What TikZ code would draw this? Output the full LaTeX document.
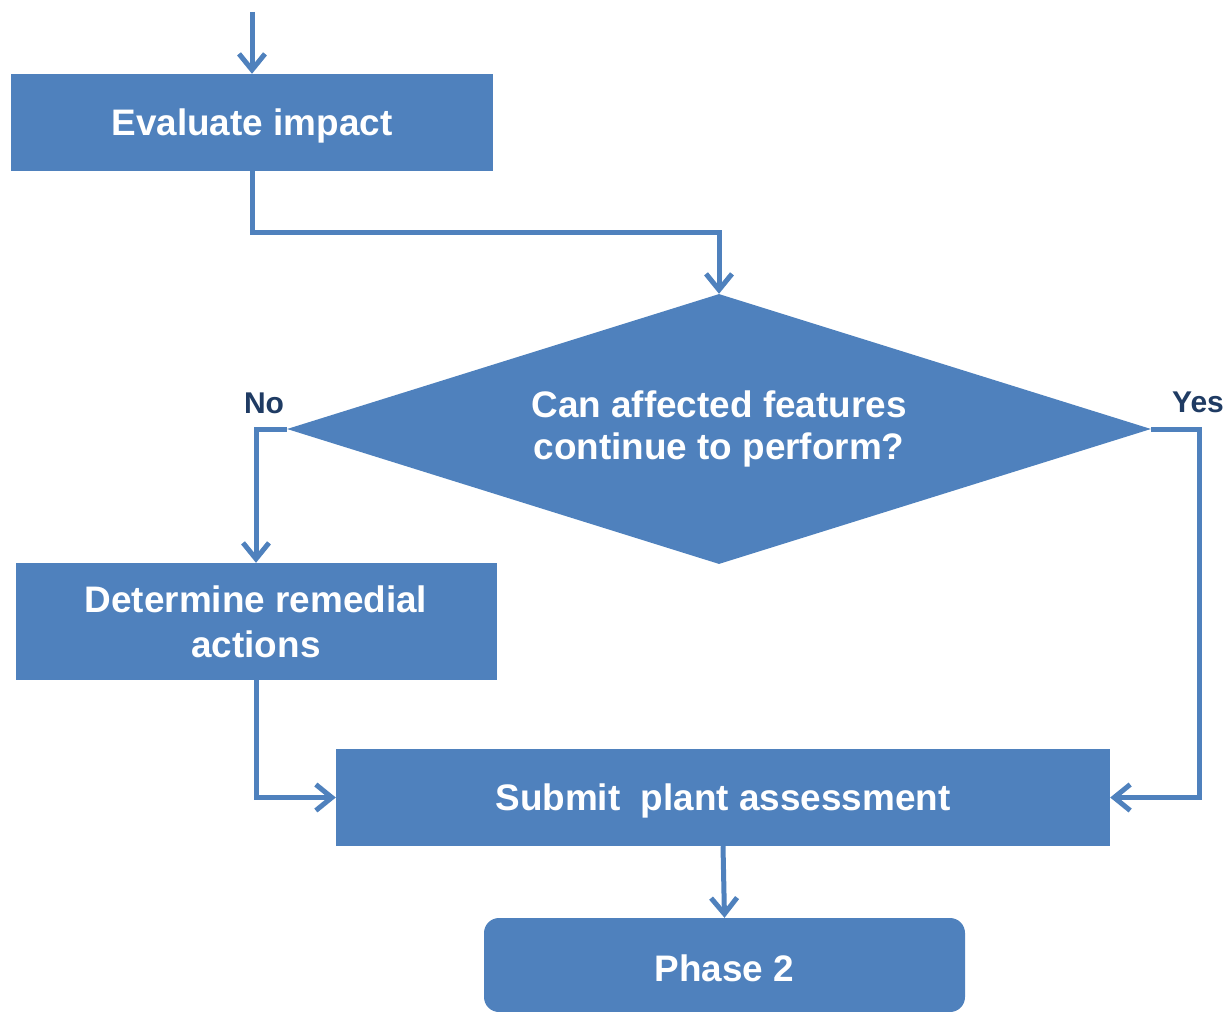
\documentclass[tikz,border=0pt]{standalone}
\usepackage{fontspec}
\setmainfont{Liberation Sans}
\usetikzlibrary{shapes.geometric,arrows.meta}
\definecolor{boxblue}{HTML}{4F81BD}
\definecolor{labelnavy}{HTML}{1F3B63}
\newcommand{\lowertext}[1]{\raisebox{-3pt}[\height][\depth]{#1}}
\begin{document}
\begin{tikzpicture}[x=1pt,y=-1pt,
  box/.style={fill=boxblue, text=white, inner sep=0pt, align=center,
    font=\bfseries\fontsize{36.9}{45}\selectfont},
  conn/.style={draw=boxblue, line width=5pt,
    -{Straight Barb[length=16pt,width=26pt]}},
  lbl/.style={text=labelnavy, inner sep=0pt,
    font=\bfseries\fontsize{30}{36}\selectfont}]
\useasboundingbox (0,0) rectangle (1230,1011);
\clip (0,0) rectangle (1230,1011);
\node[box, minimum width=482pt, minimum height=97pt] (eval) at (252,122.5) {\lowertext{Evaluate impact}};
\node[box, diamond, aspect=3.2, minimum width=864pt, minimum height=270pt,
  font=\bfseries\fontsize{36.9}{41.5}\selectfont] (dec) at (719,429)
  {Can affected features\\continue to perform?};
\node[box, minimum width=481pt, minimum height=117pt] (rem) at (256,621.5)
  {Determine remedial\\actions};
\node[box, minimum width=774pt, minimum height=97pt] (sub) at (723,797.5)
  {\lowertext{Submit\ \ plant assessment}};
\node[box, rounded corners=15pt, minimum width=481pt, minimum height=94pt] (ph) at (724.5,965)
  {\lowertext{Phase 2}};
\node[lbl] (no) at (264,403) {No};
\node[lbl] (yes) at (1198,402) {Yes};
\coordinate (start) at (252,12);
\draw[conn] (start) -- (eval.north);
\draw[conn] (eval.south) -- ++(0,61) -| (dec.north);
\draw[conn] (dec.west) -| (rem.north);
\draw[conn] (rem.south) |- (sub.west);
\draw[conn] (dec.east) -- ++(48,0) |- (sub.east);
\draw[conn] (sub.south) -- (ph.north);
\end{tikzpicture}
\end{document}
